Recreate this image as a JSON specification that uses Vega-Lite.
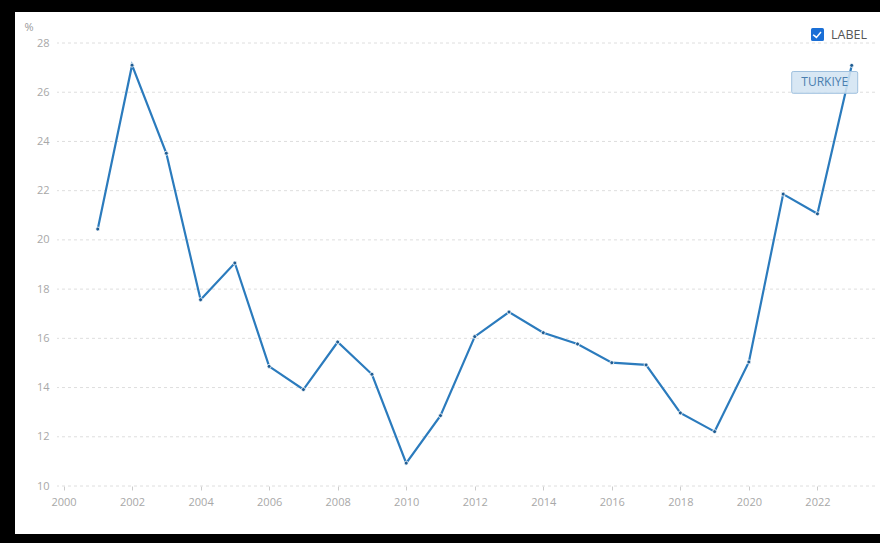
{
  "$schema": "https://vega.github.io/schema/vega-lite/v6.json",
  "width": 818,
  "height": 443,
  "autosize": {"type": "none"},
  "padding": {"left": 57, "top": 43, "right": 5, "bottom": 57},
  "background": "#ffffff",
  "config": {
    "view": {"stroke": null},
    "font": "Open Sans"
  },
  "datasets": {
    "series": [
      {"year": 2001, "value": 20.44},
      {"year": 2002, "value": 27.10},
      {"year": 2003, "value": 23.52},
      {"year": 2004, "value": 17.57},
      {"year": 2005, "value": 19.06},
      {"year": 2006, "value": 14.86},
      {"year": 2007, "value": 13.92},
      {"year": 2008, "value": 15.85},
      {"year": 2009, "value": 14.54},
      {"year": 2010, "value": 10.93},
      {"year": 2011, "value": 12.86},
      {"year": 2012, "value": 16.07},
      {"year": 2013, "value": 17.07},
      {"year": 2014, "value": 16.23},
      {"year": 2015, "value": 15.77},
      {"year": 2016, "value": 15.01},
      {"year": 2017, "value": 14.92},
      {"year": 2018, "value": 12.97},
      {"year": 2019, "value": 12.21},
      {"year": 2020, "value": 15.04},
      {"year": 2021, "value": 21.86},
      {"year": 2022, "value": 21.06},
      {"year": 2023, "value": 27.09}
    ],
    "grid": [
      {"value": 10}, {"value": 12}, {"value": 14}, {"value": 16}, {"value": 18},
      {"value": 20}, {"value": 22}, {"value": 24}, {"value": 26}, {"value": 28}
    ]
  },
  "layer": [
    {
      "description": "dashed horizontal gridlines",
      "data": {"name": "grid"},
      "mark": {"type": "rule", "color": "#dedede", "strokeWidth": 1, "strokeDash": [3, 3]},
      "encoding": {
        "y": {
          "field": "value", "type": "quantitative",
          "scale": {"domain": [10, 28], "nice": false, "zero": false},
          "axis": {
            "values": [10, 12, 14, 16, 18, 20, 22, 24, 26, 28],
            "domain": false,
            "grid": false,
            "ticks": false,
            "labelColor": "#a8a8a8",
            "labelFontSize": 11,
            "labelPadding": 8,
            "title": "%",
            "titleAngle": 0,
            "titleAlign": "left",
            "titleBaseline": "alphabetic",
            "titleX": -33,
            "titleY": -13,
            "titleColor": "#9a9a9a",
            "titleFontSize": 11,
            "titleFontWeight": "normal"
          }
        }
      }
    },
    {
      "data": {"name": "series"},
      "mark": {"type": "line", "strokeWidth": 2.2},
      "encoding": {
        "x": {
          "field": "year", "type": "quantitative",
          "scale": {"domain": [1999.81, 2023.68], "nice": false, "zero": false},
          "axis": {
            "title": null,
            "values": [2000, 2002, 2004, 2006, 2008, 2010, 2012, 2014, 2016, 2018, 2020, 2022],
            "format": "d",
            "domain": false,
            "grid": false,
            "ticks": true,
            "tickColor": "#cccccc",
            "tickSize": 4,
            "labelColor": "#a8a8a8",
            "labelFontSize": 11,
            "labelPadding": 6
          }
        },
        "y": {
          "field": "value", "type": "quantitative",
          "scale": {"domain": [10, 28], "nice": false, "zero": false},
          "axis": {
            "values": [10, 12, 14, 16, 18, 20, 22, 24, 26, 28],
            "domain": false,
            "grid": false,
            "ticks": false,
            "labelColor": "#a8a8a8",
            "labelFontSize": 11,
            "labelPadding": 8,
            "title": "%",
            "titleAngle": 0,
            "titleAlign": "left",
            "titleBaseline": "alphabetic",
            "titleX": -33,
            "titleY": -13,
            "titleColor": "#9a9a9a",
            "titleFontSize": 11,
            "titleFontWeight": "normal"
          }
        },
        "color": {
          "datum": "LABEL",
          "scale": {"range": ["#2b7bbd"]},
          "legend": {
            "title": null,
            "orient": "none",
            "legendX": 754,
            "legendY": -15,
            "padding": 0,
            "symbolType": "M-1,-0.75 Q-1,-1 -0.75,-1 L0.75,-1 Q1,-1 1,-0.75 L1,0.75 Q1,1 0.75,1 L-0.75,1 Q-1,1 -1,0.75 Z M-0.6,-0.05 L-0.75,0.1 L-0.15,0.6 L0.62,-0.3 L0.45,-0.45 L-0.15,0.28 Z",
            "symbolSize": 169,
            "labelFontSize": 12.5,
            "labelColor": "#555555",
            "labelOffset": 7,
            "encode": {
              "symbols": {
                "update": {
                  "fill": {"value": "#1a6fd6"},
                  "stroke": {"value": "transparent"},
                  "strokeWidth": {"value": 0},
                  "opacity": {"value": 1}
                }
              }
            }
          }
        }
      }
    },
    {
      "data": {"name": "series"},
      "mark": {"type": "point", "filled": true, "size": 16, "fill": "#1f5c92", "stroke": "#ffffff", "strokeWidth": 0.8, "opacity": 1},
      "encoding": {
        "x": {"field": "year", "type": "quantitative"},
        "y": {"field": "value", "type": "quantitative"}
      }
    },
    {
      "description": "callout box naming the series, next to its last point",
      "data": {"name": "series"},
      "transform": [{"filter": "datum.year == 2023"}],
      "mark": {
        "type": "point",
        "shape": "M-0.954,-0.33 L0.954,-0.33 Q1,-0.33 1,-0.284 L1,0.284 Q1,0.33 0.954,0.33 L-0.954,0.33 Q-1,0.33 -1,0.284 L-1,-0.284 Q-1,-0.33 -0.954,-0.33 Z",
        "size": 4356,
        "filled": true,
        "fill": "#d3e4f3",
        "fillOpacity": 0.88,
        "stroke": "#9fc0de",
        "strokeWidth": 1,
        "opacity": 1,
        "xOffset": -27,
        "yOffset": 17
      },
      "encoding": {
        "x": {"field": "year", "type": "quantitative"},
        "y": {"field": "value", "type": "quantitative"}
      }
    },
    {
      "data": {"name": "series"},
      "transform": [{"filter": "datum.year == 2023"}],
      "mark": {"type": "text", "dx": -27, "dy": 17, "align": "center", "baseline": "middle", "fontSize": 12, "color": "#4a7eaf"},
      "encoding": {
        "x": {"field": "year", "type": "quantitative"},
        "y": {"field": "value", "type": "quantitative"},
        "text": {"value": "TURKIYE"}
      }
    },
    {
      "description": "thick dark frame around the page edges",
      "data": {"values": [{}]},
      "mark": {"type": "rect", "fill": null, "fillOpacity": 0, "stroke": "#000000", "strokeWidth": 16, "clip": false},
      "encoding": {
        "x": {"datum": 1998.351, "type": "quantitative"},
        "x2": {"datum": 2026},
        "y": {"datum": 7.725, "type": "quantitative"},
        "y2": {"datum": 29.585}
      }
    }
  ]
}
